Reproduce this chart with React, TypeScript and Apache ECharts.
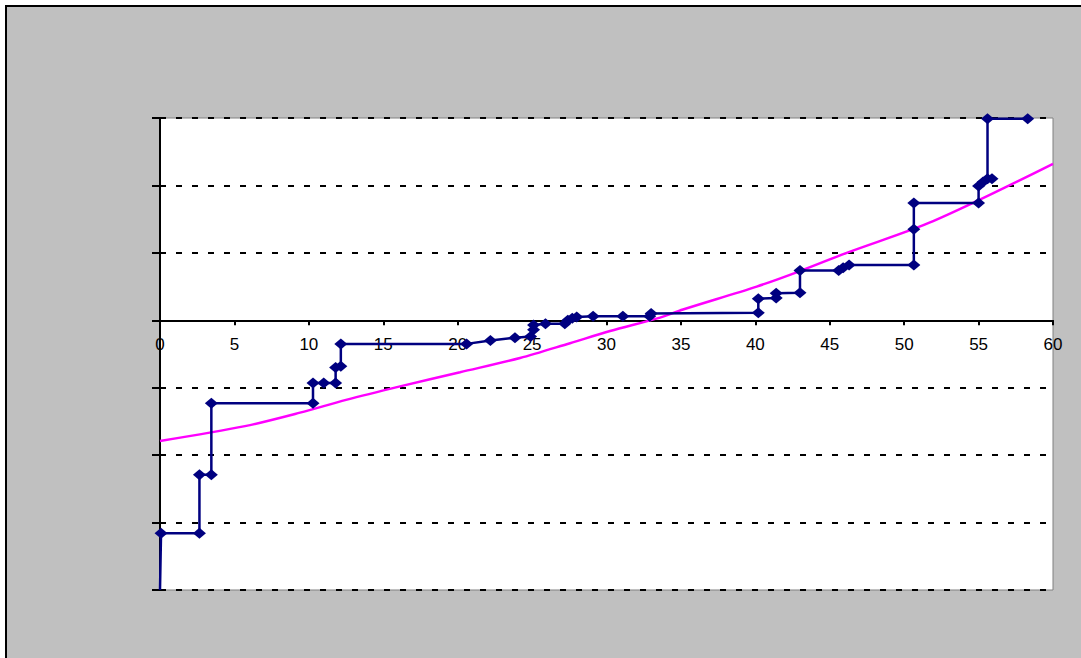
import React, { useEffect, useRef } from "react";
import * as echarts from "echarts";

const xTicks = [0, 5, 10, 15, 20, 25, 30, 35, 40, 45, 50, 55, 60];

const stepX = [0, 0.07, 2.65, 2.65, 3.45, 3.45, 10.28, 10.28, 11.0, 11.8, 11.8, 12.15, 12.15, 20.6, 22.2, 23.85, 24.9, 25.1, 25.1, 25.9, 27.2, 27.4, 27.7, 28.0, 29.1, 31.1, 32.9, 33.0, 40.2, 40.2, 41.4, 41.4, 43.0, 43.0, 45.6, 45.9, 46.3, 50.65, 50.65, 50.65, 55.0, 55.0, 55.3, 55.9, 55.6, 55.6, 58.3];
const stepY = [-4, -3.16, -3.16, -2.29, -2.29, -1.23, -1.23, -0.93, -0.93, -0.93, -0.7, -0.68, -0.35, -0.35, -0.3, -0.26, -0.24, -0.14, -0.07, -0.05, -0.05, 0.0, 0.03, 0.05, 0.06, 0.06, 0.06, 0.1, 0.11, 0.32, 0.33, 0.4, 0.41, 0.74, 0.74, 0.78, 0.82, 0.82, 1.35, 1.74, 1.74, 1.99, 2.05, 2.1, 2.1, 2.99, 2.99];

const fitX = [0, 5.71, 9.41, 12.5, 16.13, 20.16, 24.19, 27.55, 30.24, 33.6, 35.14, 40.09, 43.0, 46.14, 51.95, 60];
const fitY = [-1.79, -1.57, -1.37, -1.18, -0.98, -0.77, -0.56, -0.34, -0.16, 0.04, 0.16, 0.5, 0.73, 1.0, 1.47, 2.32];

export default function App() {
  const ref = useRef<HTMLDivElement>(null);
  useEffect(() => {
    if (!ref.current) return;
    const chart = echarts.init(ref.current, null, { renderer: "svg" });
    const stepData = stepX.map((x, i) =>
      i === 0 ? { value: [x, stepY[i]], symbol: "none" } : { value: [x, stepY[i]] }
    );
    const fitData = fitX.map((x, i) => [x, fitY[i]]);
    const gridTop = 118;
    const gridBottom = 68;
    const plotH = 658 - gridTop - gridBottom;
    chart.setOption({
      animation: false,
      backgroundColor: "#ffffff",
      graphic: {
        elements: [
          {
            type: "rect",
            z: -100,
            silent: true,
            shape: { x: 6, y: 6, width: 1200, height: 800 },
            style: { fill: "#C0C0C0", stroke: "#000000", lineWidth: 2 },
          },
        ],
      },
      grid: {
        left: 160,
        top: gridTop,
        right: 28,
        bottom: gridBottom,
        show: true,
        backgroundColor: "#ffffff",
        borderColor: "#808080",
        borderWidth: 1,
        containLabel: false,
      },
      xAxis: {
        type: "value",
        min: 0,
        max: 60,
        interval: 5,
        position: "bottom",
        offset: -(plotH * 4) / 7,
        axisLine: { onZero: false, lineStyle: { color: "#000000", width: 2 } },
        axisTick: { show: true, inside: false, length: 5, lineStyle: { color: "#000000", width: 2 } },
        axisLabel: {
          color: "#000000",
          fontFamily: "Liberation Sans",
          fontSize: 17,
          margin: 16,
          formatter: (v: number) => (xTicks.includes(v) ? String(v) : ""),
        },
        splitLine: { show: false },
      },
      yAxis: {
        type: "value",
        min: -4,
        max: 3,
        interval: 1,
        axisLine: { show: true, onZero: false, lineStyle: { color: "#000000", width: 2 } },
        axisTick: { show: true, inside: false, length: 8, lineStyle: { color: "#000000", width: 2 } },
        axisLabel: { show: false },
        splitLine: { show: true, lineStyle: { color: "#000000", type: [6, 10], width: 2 } },
      },
      series: [
        {
          type: "line",
          data: fitData,
          showSymbol: false,
          symbol: "none",
          smooth: 0.3,
          lineStyle: { color: "#FF00FF", width: 2.5 },
          z: 2,
        },
        {
          type: "line",
          data: stepData,
          symbol: "diamond",
          symbolSize: [13, 11],
          itemStyle: { color: "#000080" },
          lineStyle: { color: "#000080", width: 2.5 },
          z: 3,
        },
      ],
    });
    return () => chart.dispose();
  }, []);
  return (
    <div
      ref={ref}
      style={{ position: "fixed", left: 0, top: 0, width: 1081, height: 658 }}
    />
  );
}
